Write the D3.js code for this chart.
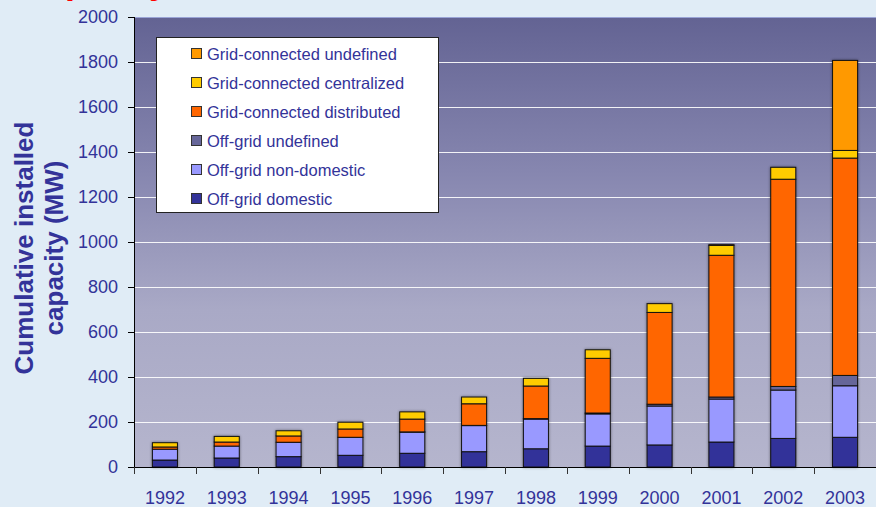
<!DOCTYPE html>
<html><head><meta charset="utf-8">
<script src="https://cdn.jsdelivr.net/npm/d3@7"></script>
<style>
html,body{margin:0;padding:0;background:#e0ecf6;}
svg{display:block;font-family:"Liberation Sans",Arial,sans-serif;}
</style></head>
<body>
<svg id="chart" width="876" height="507"></svg>
<script>
const years = ["1992","1993","1994","1995","1996","1997","1998","1999","2000","2001","2002","2003"];
const offGridDomestic    = [31, 40, 46, 52, 61, 68, 81, 93, 98, 111, 127, 132];
const offGridNonDomestic = [48, 53, 64, 80, 94, 116, 132, 143, 173, 191, 215, 229];
const offGridUndefined   = [0, 0, 0, 0, 1, 1, 2, 4, 8, 9, 16, 46];
const gridDistributed    = [10, 18, 28, 37, 57, 96, 145, 243, 408, 630, 921, 966];
const gridCentralized    = [19, 25, 23, 30, 32, 30, 34, 38, 39, 44, 53, 34];
const gridUndefined      = [0, 0, 0, 0, 0, 0, 0, 0, 0, 3, 0, 400];
const seriesNames = ["Off-grid domestic","Off-grid non-domestic","Off-grid undefined","Grid-connected distributed","Grid-connected centralized","Grid-connected undefined"];
const seriesColors = ["#333399","#9999ff","#666699","#ff6600","#ffcc00","#ff9900"];
const yTicks = [0,200,400,600,800,1000,1200,1400,1600,1800,2000];

const seriesValues = [offGridDomestic, offGridNonDomestic, offGridUndefined, gridDistributed, gridCentralized, gridUndefined];
const rows = years.map((y,i)=>{ const r={year:y}; seriesNames.forEach((n,k)=>r[n]=seriesValues[k][i]); return r; });

const svg = d3.select("#chart");
const m = {left:134, right:0, top:17, bottom:40};
const W = 876, H = 507;
const x = d3.scaleBand().domain(years).range([m.left, W - m.right]);
const y = d3.scaleLinear().domain([0,2000]).range([H - m.bottom, m.top]);

// title fragment (cut off at the top of the picture, as in the reference)
svg.append("text").attr("x",25).attr("y",-7).attr("fill","#ff0000")
  .attr("font-size",36).attr("font-weight","bold").text("capacity");

const defs = svg.append("defs");
const grad = defs.append("linearGradient").attr("id","bg").attr("x1",0).attr("y1",0).attr("x2",0).attr("y2",1);
grad.append("stop").attr("offset","0%").attr("stop-color","#636393");
grad.append("stop").attr("offset","35%").attr("stop-color","#8787b0");
grad.append("stop").attr("offset","65%").attr("stop-color","#a9a9c6");
grad.append("stop").attr("offset","100%").attr("stop-color","#b5b5cd");
const f = defs.append("filter").attr("id","sh").attr("x","-30%").attr("y","-10%").attr("width","160%").attr("height","120%");
f.append("feGaussianBlur").attr("in","SourceAlpha").attr("stdDeviation",1.5).attr("result","b");
f.append("feComponentTransfer").attr("in","b").attr("result","b2").append("feFuncA").attr("type","linear").attr("slope",0.45);
const fm = f.append("feMerge"); fm.append("feMergeNode").attr("in","b2"); fm.append("feMergeNode").attr("in","SourceGraphic");

svg.append("rect").attr("x",m.left).attr("y",y(2000)).attr("width",W-m.left).attr("height",y(0)-y(2000)).attr("fill","url(#bg)");
svg.append("line").attr("x1",m.left).attr("x2",W).attr("y1",y(2000)+0.5).attr("y2",y(2000)+0.5).attr("stroke","#9aa4d6").attr("stroke-width",1);

// grid
svg.append("g").selectAll("line").data(yTicks.filter(t=>t>0 && t<2000)).join("line")
  .attr("x1",m.left).attr("x2",W).attr("y1",d=>Math.round(y(d))+0.5).attr("y2",d=>Math.round(y(d))+0.5)
  .attr("stroke","#ffffff").attr("stroke-opacity",0.9).attr("stroke-width",1.2);

// bars
const stack = d3.stack().keys(seriesNames)(rows);
const bw = x.bandwidth()*0.405;
const barG = svg.append("g");
years.forEach((yr,i)=>{
  const g = barG.append("g").attr("filter","url(#sh)");
  stack.forEach((layer,k)=>{
    const d = layer[i];
    if (d[1]-d[0] <= 0) return;
    g.append("rect")
      .attr("x", x(yr) + (x.bandwidth()-bw)/2)
      .attr("y", y(d[1]))
      .attr("width", bw)
      .attr("height", y(d[0]) - y(d[1]))
      .attr("fill", seriesColors[k])
      .attr("stroke","#111").attr("stroke-width",1);
  });
});

// axes
const yAxis = d3.axisLeft(y).tickValues(yTicks).tickFormat(d3.format("d")).tickSize(6).tickPadding(10);
const ya = svg.append("g").attr("transform",`translate(${m.left},0)`).call(yAxis);
ya.select(".domain").attr("stroke","#000").attr("d",`M0.5,${y(2000)}V${y(0)}`);
ya.selectAll(".tick line").attr("stroke","#000");
ya.selectAll("text").attr("fill","#333399").attr("font-size",18).attr("font-family","Liberation Sans, Arial, sans-serif");

const xAxis = d3.axisBottom(x).tickSize(0).tickPadding(24);
const xa = svg.append("g").attr("transform",`translate(0,${y(0)})`).call(xAxis);
xa.select(".domain").attr("stroke","#000").attr("d",`M${m.left},0.5H${W}`);
xa.selectAll("text").attr("fill","#333399").attr("font-size",18).attr("font-family","Liberation Sans, Arial, sans-serif");
// category separators
svg.append("g").selectAll("line").data(years).join("line")
  .attr("x1",d=>Math.round(x(d))+0.5).attr("x2",d=>Math.round(x(d))+0.5)
  .attr("y1",y(0)).attr("y2",y(0)+7).attr("stroke","#333").attr("stroke-width",1);

// y label
const yl = svg.append("text").attr("transform","translate(33,248) rotate(-90)")
  .attr("text-anchor","middle").attr("fill","#333399").attr("font-weight","bold").attr("font-size",26);
yl.append("tspan").attr("x",0).attr("y",0).text("Cumulative installed");
yl.append("tspan").attr("x",0).attr("y",30).text("capacity (MW)");

// legend
const lg = svg.append("g");
lg.append("rect").attr("x",156.5).attr("y",37.5).attr("width",282).attr("height",175)
  .attr("fill","#ffffff").attr("stroke","#222").attr("stroke-width",1);
const order = [5,4,3,2,1,0];
order.forEach((k,j)=>{
  const cy = 54 + j*29;
  lg.append("rect").attr("x",191.5).attr("y",cy-5.5).attr("width",10).attr("height",10)
    .attr("fill",seriesColors[k]).attr("stroke","#333").attr("stroke-width",1);
  lg.append("text").attr("x",207).attr("y",cy+6).attr("fill","#333399").attr("font-size",16.5).text(seriesNames[k]);
});
</script>
</body></html>
